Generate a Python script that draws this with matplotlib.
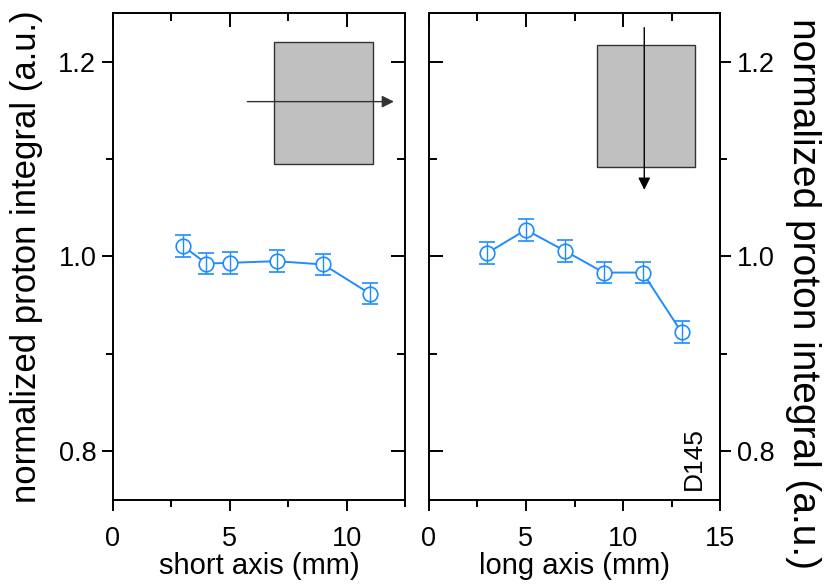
"""Proton integral profile along short and long axis"""

import matplotlib
matplotlib.use("Agg")
import matplotlib.pyplot as plt
from matplotlib import font_manager
from matplotlib.patches import Rectangle
from matplotlib.ticker import MultipleLocator

# data
short_x = [3, 4, 5, 7, 9, 11]
short_y = [1.0106, 0.9928, 0.9935, 0.9952, 0.9918, 0.9618]
short_err = [0.011, 0.011, 0.011, 0.011, 0.011, 0.011]

long_x = [3, 5, 7, 9, 11, 13]
long_y = [1.0034, 1.0274, 1.0058, 0.9835, 0.9835, 0.9223]
long_err = [0.011, 0.011, 0.011, 0.011, 0.011, 0.011]

ylabel = "normalized proton integral (a.u.)"
sample = "D145"

names = {f.name for f in font_manager.fontManager.ttflist}
base_font = "Liberation Sans" if "Liberation Sans" in names else "DejaVu Sans"
plt.rcParams["font.family"] = base_font
plt.rcParams["axes.linewidth"] = 1.4

blue = "#1E8CFF"
tick_fs = 19.5
label_fs = 21


def draw_series(ax, x, y, err):
    """line, open circles and error bars in the Origin look"""
    ax.plot(x, y, color=blue, lw=1.4, zorder=2)
    ax.plot(x, y, "o", ms=10.5, mfc="white", mec=blue, mew=1.2, zorder=3)
    ax.errorbar(x, y, yerr=err, fmt="none", ecolor=blue, elinewidth=1.0,
                capsize=5.5, capthick=1.2, zorder=4)


def style_ticks(ax, xmax, label_side):
    ax.set_xlim(0, xmax)
    ax.set_ylim(0.75, 1.25)
    ax.xaxis.set_major_locator(MultipleLocator(5))
    ax.xaxis.set_minor_locator(MultipleLocator(2.5))
    ax.yaxis.set_major_locator(MultipleLocator(0.2))
    ax.yaxis.set_minor_locator(MultipleLocator(0.1))
    ax.tick_params(axis="x", which="major", direction="out", length=8,
                   width=1.4, labelsize=tick_fs, pad=11)
    ax.tick_params(axis="x", which="minor", direction="out", length=5,
                   width=1.4)
    ax.tick_params(axis="y", which="major", direction="out", length=8,
                   width=1.4, labelsize=tick_fs, pad=4)
    ax.tick_params(axis="y", which="minor", direction="out", length=5,
                   width=1.4)
    if label_side == "right":
        ax.yaxis.tick_right()
        ax.yaxis.set_label_position("right")
    other = "left" if label_side == "right" else "right"
    sec_y = ax.secondary_yaxis(other)
    sec_y.yaxis.set_major_locator(MultipleLocator(0.2))
    sec_y.yaxis.set_minor_locator(MultipleLocator(0.1))
    sec_y.tick_params(which="major", direction="in", length=10, width=1.4,
                      labelleft=False, labelright=False)
    sec_y.tick_params(which="minor", direction="in", length=6, width=1.4)
    sec_x = ax.secondary_xaxis("top")
    sec_x.xaxis.set_major_locator(MultipleLocator(5))
    sec_x.xaxis.set_minor_locator(MultipleLocator(2.5))
    sec_x.tick_params(which="major", direction="in", length=10, width=1.4,
                      labeltop=False)
    sec_x.tick_params(which="minor", direction="in", length=6, width=1.4)
    for sec in (sec_x, sec_y):
        for sp in sec.spines.values():
            sp.set_visible(False)


fig = plt.figure(figsize=(8.32, 5.85), dpi=100)
ax1 = fig.add_axes([0.1358, 0.1453, 0.3510, 0.8325])
ax2 = fig.add_axes([0.5152, 0.1453, 0.3507, 0.8325])

draw_series(ax1, short_x, short_y, short_err)
draw_series(ax2, long_x, long_y, long_err)

style_ticks(ax1, 12.5, "left")
style_ticks(ax2, 15, "right")

ax1.set_xlabel("short axis (mm)", fontsize=label_fs, labelpad=0)
ax2.set_xlabel("long axis (mm)", fontsize=label_fs, labelpad=0)
ax1.set_ylabel(ylabel, fontsize=25, labelpad=11)
ax2.set_ylabel(ylabel, fontsize=28, labelpad=7, rotation=270,
               va="bottom")
ax2.yaxis.label.set_y(0.425)

# sample sketches: gray slab with scan direction arrow
ax1.add_patch(Rectangle((0.553, 0.69), 0.336, 0.25, transform=ax1.transAxes,
                        facecolor="#C0C0C0", edgecolor="#333333", lw=1.0,
                        zorder=1))
ax1.annotate("", xy=(0.962, 0.818), xytext=(0.46, 0.818),
             xycoords="axes fraction",
             arrowprops=dict(arrowstyle="-|>", color="#333333", lw=1.0,
                             mutation_scale=18, shrinkA=0, shrinkB=0),
             zorder=2)
ax2.add_patch(Rectangle((0.578, 0.684), 0.334, 0.251,
                        transform=ax2.transAxes, facecolor="#C0C0C0",
                        edgecolor="#333333", lw=1.0, zorder=1))
ax2.annotate("", xy=(0.739, 0.637), xytext=(0.739, 0.97),
             xycoords="axes fraction",
             arrowprops=dict(arrowstyle="-|>", color="black", lw=1.0,
                             mutation_scale=18, shrinkA=0, shrinkB=0),
             zorder=2)

ax2.text(0.908, 0.02, sample, transform=ax2.transAxes, rotation=90,
         fontsize=19, ha="center", va="bottom")

fig.savefig("out.png", dpi=100)
